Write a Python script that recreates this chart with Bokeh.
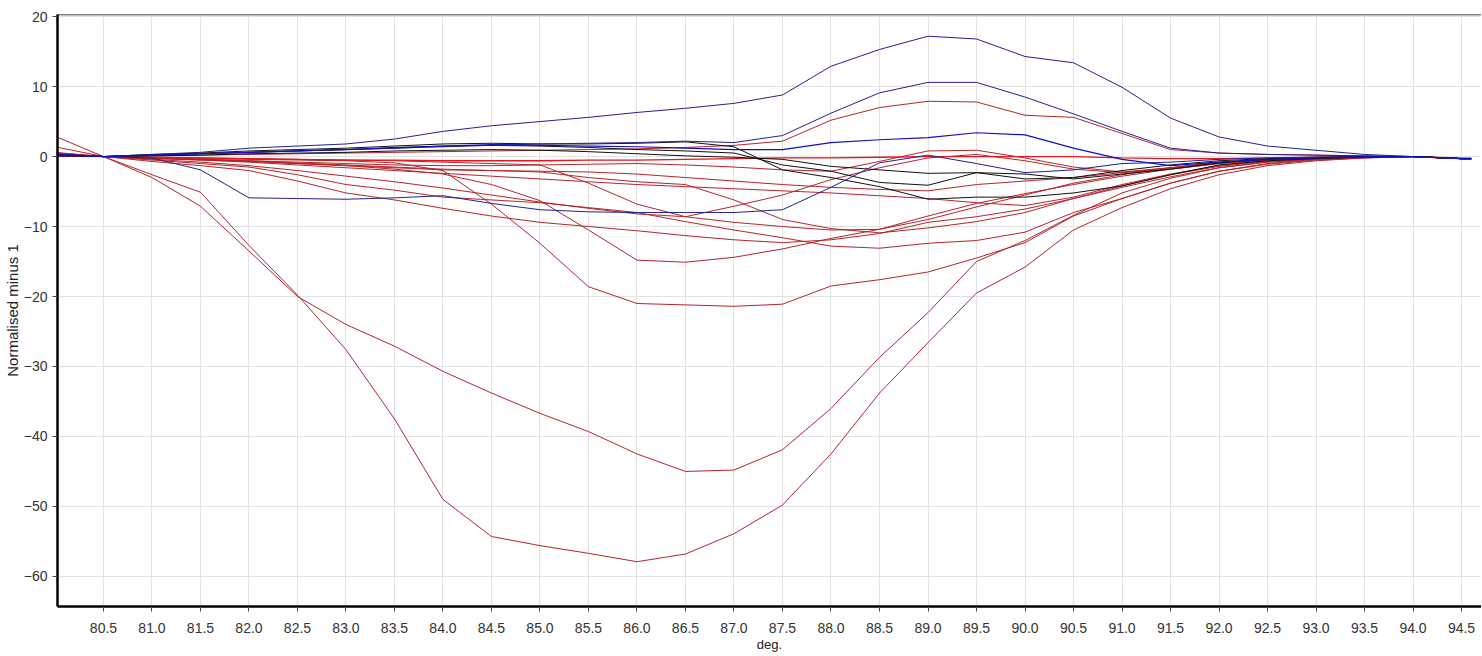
from bokeh.plotting import figure
from bokeh.models import FixedTicker, NumeralTickFormatter, Span
from bokeh.embed import file_html
from bokeh.resources import INLINE

# temperature grid (deg.)
X = [80.0, 80.5, 81.0, 81.5, 82.0, 82.5, 83.0, 83.5, 84.0, 84.5, 85.0, 85.5, 86.0, 86.5, 87.0,
     87.5, 88.0, 88.5, 89.0, 89.5, 90.0, 90.5, 91.0, 91.5, 92.0, 92.5, 93.0, 93.5, 94.0, 94.5, 94.6]

# red curves
red_a = [2.9, 0, -2.6, -5.1, -12.7, -19.8, -27.6, -37.5, -49.0, -54.3, -55.6, -56.7, -57.9, -56.8, -53.9,
         -49.8, -42.5, -33.8, -26.6, -19.5, -15.8, -10.5, -7.3, -4.6, -2.6, -1.3, -0.6, -0.2, 0, -0.3, -0.3]
red_b = [1.4, 0, -3.0, -7.1, -13.5, -20.0, -24.0, -27.1, -30.7, -33.8, -36.7, -39.3, -42.5, -45.0, -44.8,
         -41.9, -36.0, -28.7, -22.3, -15.0, -12.0, -8.4, -5.2, -3.1, -1.6, -0.8, -0.4, -0.1, 0, -0.3, -0.3]
red_c = [0.3, 0, -0.2, -0.3, -0.4, -0.5, -0.6, -0.9, -2.0, -6.8, -12.4, -18.6, -21.0, -21.2, -21.4,
         -21.1, -18.5, -17.6, -16.5, -14.5, -12.3, -8.5, -6.0, -3.8, -2.1, -1.1, -0.5, -0.2, 0, -0.3, -0.3]
red_d = [0.2, 0, -0.3, -0.5, -0.7, -1.0, -1.3, -1.8, -2.5, -4.0, -6.3, -10.5, -14.8, -15.1, -14.4,
         -13.2, -11.7, -10.4, -8.5, -6.7, -5.3, -4.0, -2.8, -1.8, -1.0, -0.5, -0.2, 0, 0, -0.3, -0.3]
red_e1 = [0.4, 0, -0.5, -1.0, -1.5, -2.6, -4.0, -4.8, -5.8, -6.2, -6.6, -7.3, -8.0, -9.3, -10.5,
          -11.6, -12.8, -13.1, -12.4, -12.0, -10.8, -8.0, -6.0, -3.8, -2.1, -1.0, -0.4, -0.1, 0, -0.3, -0.3]
red_e2 = [0.6, 0, -0.7, -1.3, -2.0, -3.5, -5.2, -6.2, -7.4, -8.5, -9.4, -10.0, -10.6, -11.3, -11.9,
          -12.3, -11.9, -11.0, -9.4, -8.6, -7.5, -6.0, -4.4, -2.9, -1.6, -0.8, -0.3, -0.1, 0, -0.3, -0.3]
red_f1 = [0.1, 0, -0.2, -0.4, -0.6, -0.9, -1.2, -1.5, -1.8, -2.0, -2.2, -3.0, -3.6, -4.0, -6.2,
          -9.0, -10.3, -10.9, -10.2, -9.3, -8.0, -6.0, -4.2, -2.6, -1.4, -0.7, -0.3, -0.1, 0, -0.3, -0.3]
red_f2 = [0.2, 0, -0.1, -0.2, -0.3, -0.4, -0.5, -0.6, -0.8, -1.0, -1.2, -3.8, -6.8, -8.6, -9.4,
          -10.0, -10.5, -10.4, -9.0, -7.2, -5.5, -3.8, -2.6, -1.6, -0.9, -0.4, -0.2, 0, 0, -0.3, -0.3]
red_g = [0.3, 0, -0.4, -0.8, -1.3, -2.0, -2.8, -3.6, -4.5, -5.5, -6.5, -7.4, -8.2, -8.6, -7.1,
         -5.5, -3.3, -1.6, -0.2, 0.3, -0.6, -1.8, -2.3, -1.8, -1.0, -0.5, -0.2, 0, 0, -0.3, -0.3]
red_h = [0.2, 0, -0.2, -0.4, -0.7, -1.0, -1.3, -1.6, -1.9, -2.0, -2.1, -2.2, -2.5, -3.0, -3.5,
         -4.0, -4.4, -4.7, -4.9, -4.0, -3.5, -3.0, -2.3, -1.6, -0.9, -0.4, -0.2, 0, 0, -0.3, -0.3]
red_i = [0.0, 0, -0.2, -0.4, -0.6, -0.8, -1.0, -1.2, -1.3, -1.3, -1.2, -1.1, -1.0, -1.2, -1.5,
         -1.9, -2.1, -0.7, 0.8, 0.9, -0.2, -1.5, -2.2, -1.6, -0.8, -0.4, -0.2, 0, 0, -0.3, -0.3]
red_l = [0.1, 0, -0.2, -0.5, -0.8, -1.2, -1.6, -2.0, -2.4, -2.8, -3.2, -3.6, -4.0, -4.3, -4.6,
         -4.9, -5.2, -5.6, -6.0, -6.6, -7.0, -5.8, -4.0, -2.5, -1.3, -0.6, -0.3, -0.1, 0, -0.3, -0.3]
red_p8 = [0.3, 0, 0.1, 0.2, 0.3, 0.4, 0.5, 0.6, 0.7, 0.8, 0.9, 1.0, 1.1, 1.3, 1.6,
          2.2, 5.2, 7.0, 7.9, 7.8, 5.9, 5.6, 3.3, 1.0, 0.5, 0.3, 0.2, 0.1, 0, -0.2, -0.2]
red_zero = [0.5, 0, -0.1, -0.2, -0.3, -0.4, -0.5, -0.5, -0.6, -0.6, -0.6, -0.5, -0.5, -0.4, -0.3,
            -0.2, -0.2, -0.1, 0.0, 0.0, 0.0, 0.0, -0.2, -0.3, -0.3, -0.2, -0.1, 0, 0, -0.3, -0.3]

# black curves
blk_1 = [0.2, 0, 0.3, 0.5, 0.8, 1.0, 1.2, 1.5, 1.8, 1.9, 1.8, 1.8, 1.9, 2.1, 1.4,
         -1.9, -3.0, -4.3, -6.1, -5.8, -5.8, -5.2, -4.2, -2.6, -1.2, -0.6, -0.3, -0.1, 0, -0.3, -0.3]
blk_2 = [0.3, 0, 0.2, 0.4, 0.6, 0.8, 1.0, 1.3, 1.5, 1.6, 1.5, 1.3, 1.0, 0.8, 0.5,
         -1.2, -2.1, -3.7, -4.1, -2.3, -2.5, -3.2, -2.5, -1.8, -0.9, -0.4, -0.2, 0, 0, -0.3, -0.3]
blk_3 = [0.1, 0, 0.1, 0.2, 0.4, 0.5, 0.6, 0.8, 0.9, 1.0, 0.9, 0.7, 0.4, 0.1, -0.1,
         -0.4, -1.4, -1.9, -2.4, -2.3, -3.2, -3.0, -2.0, -1.2, -0.6, -0.3, -0.1, 0, 0, -0.3, -0.3]

# blue curves
blu_top = [0.2, 0, 0.3, 0.6, 1.2, 1.5, 1.8, 2.5, 3.6, 4.4, 5.0, 5.6, 6.3, 6.9, 7.6,
           8.8, 12.9, 15.3, 17.2, 16.8, 14.3, 13.4, 9.9, 5.5, 2.8, 1.5, 0.9, 0.3, 0, -0.3, -0.3]
blu_2 = [0.3, 0, 0.2, 0.4, 0.6, 0.8, 1.0, 1.2, 1.4, 1.6, 1.8, 1.9, 2.0, 2.2, 2.0,
         3.0, 6.2, 9.1, 10.6, 10.6, 8.5, 6.1, 3.6, 1.2, 0.5, 0.3, 0.2, 0.1, 0, -0.3, -0.3]
blu_3 = [0.3, 0, 0.2, 0.4, 0.6, 0.8, 1.0, 1.2, 1.5, 1.7, 1.6, 1.5, 1.4, 1.2, 1.0,
         1.0, 2.0, 2.4, 2.7, 3.4, 3.1, 1.2, -0.4, -1.3, -0.8, -0.4, -0.2, 0, 0, -0.3, -0.3]
blu_low = [0.4, 0, -0.2, -1.9, -5.9, -6.0, -6.1, -5.9, -5.6, -6.7, -7.6, -7.9, -8.0, -8.0, -8.0,
           -7.6, -4.4, -0.9, 0.2, -1.0, -2.3, -1.9, -1.0, -0.8, -0.4, -0.2, -0.1, 0, 0, -0.3, -0.3]

RED = "#b3262b"
BRIGHT_RED = "#e8141e"
BLACK = "#111111"
NAVY = "#23238c"
BLUE = "#1010c0"

red_series = [red_a, red_b, red_c, red_d, red_e1, red_e2, red_f1, red_f2, red_g, red_h, red_i, red_l, red_p8]
black_series = [blk_1, blk_2, blk_3]

X_TICKS = [80.5 + 0.5 * i for i in range(29)]
Y_TICKS = [-60, -50, -40, -30, -20, -10, 0, 10, 20]

p = figure(frame_width=1424, frame_height=592,
           x_range=(80.026, 94.706), y_range=(-64.3, 20.3),
           output_backend="svg", toolbar_location=None,
           min_border_left=50, min_border_right=0, min_border_top=14, min_border_bottom=40)

p.background_fill_color = "white"
p.border_fill_color = "white"
p.outline_line_color = None

for ys in red_series:
    p.line(X, ys, line_color=RED, line_width=1)
p.line(X, red_zero, line_color=BRIGHT_RED, line_width=1.3)
for ys in black_series:
    p.line(X, ys, line_color=BLACK, line_width=1)
p.line(X, blu_low, line_color=NAVY, line_width=1)
p.line(X, blu_top, line_color=NAVY, line_width=1)
p.line(X, blu_2, line_color=NAVY, line_width=1)
p.line(X, blu_3, line_color=BLUE, line_width=1.2)

p.add_layout(Span(location=20.3, dimension="width", line_color="black", line_width=1.5))

p.xaxis.ticker = FixedTicker(ticks=X_TICKS)
p.xaxis.formatter = NumeralTickFormatter(format="0.0")
p.yaxis.ticker = FixedTicker(ticks=Y_TICKS)
p.xaxis.axis_label = "deg."
p.yaxis.axis_label = "Normalised minus 1"

for ax in (p.xaxis, p.yaxis):
    ax.axis_line_color = "black"
    ax.axis_line_width = 2.5
    ax.major_tick_line_color = "#444444"
    ax.major_tick_out = 5
    ax.major_tick_in = 0
    ax.minor_tick_line_color = None
    ax.major_label_text_font = "Liberation Sans"
    ax.major_label_text_font_size = "14px"
    ax.major_label_text_color = "#333333"
    ax.axis_label_text_font = "Liberation Sans"
    ax.axis_label_text_font_style = "normal"
    ax.axis_label_text_color = "#222222"
p.xaxis.axis_label_text_font_size = "13px"
p.yaxis.axis_label_text_font_size = "15px"
p.xaxis.major_label_standoff = 11
p.xaxis.axis_label_standoff = 1
p.yaxis.major_label_standoff = 5
p.yaxis.axis_label_standoff = 0

p.xgrid.grid_line_color = "#e2e2e2"
p.ygrid.grid_line_color = "#e2e2e2"

open("out.html", "w").write(file_html(p, INLINE))
